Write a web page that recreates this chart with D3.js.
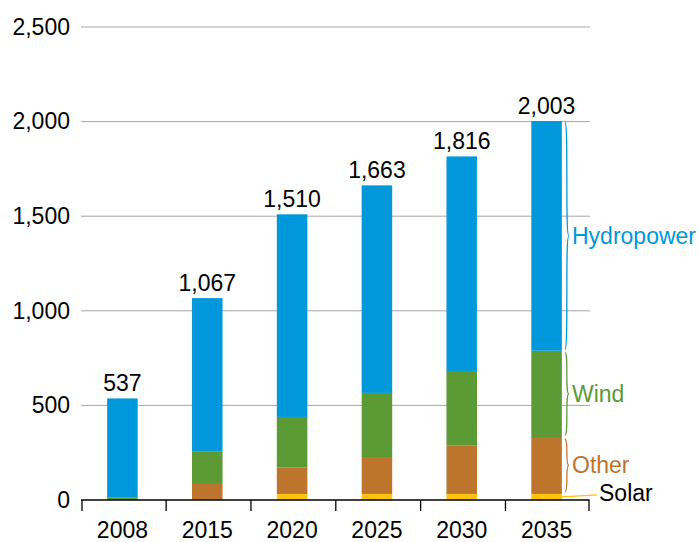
<!DOCTYPE html>
<html><head><meta charset="utf-8">
<script src="https://cdn.jsdelivr.net/npm/d3@7"></script>
<style>body{margin:0;background:#fff}svg{display:block;font-family:"Liberation Sans",Arial,sans-serif}</style>
</head><body><svg id="c" width="699" height="542"></svg>
<script>
const years = ["2008","2015","2020","2025","2030","2035"];
const solar = [0, 2, 32, 32, 32, 32];
const other = [2, 88, 139, 195, 255, 301];
const wind = [10, 165, 268, 339, 395, 456];
const hydro = [525, 812, 1071, 1097, 1134, 1214];
const totals = [537, 1067, 1510, 1663, 1816, 2003];
const yTicks = [0, 500, 1000, 1500, 2000, 2500];
const seriesNames = ["Solar", "Other", "Wind", "Hydropower"];
const seriesColors = ["#FFC20E", "#BD742C", "#5B9A35", "#0098DA"];
const FS = 23;

const svg = d3.select("#c");
const x = d3.scaleBand().domain(years).range([80, 589]).paddingInner(0.64).paddingOuter(0.32);
const y = d3.scaleLinear().domain([0, 2500]).range([500, 27]);

// gridlines
svg.append("g").selectAll("line").data(yTicks.filter(d => d > 0)).join("line")
  .attr("x1", 81).attr("x2", 590).attr("y1", d => y(d)).attr("y2", d => y(d))
  .attr("stroke", "#A6A6A6").attr("stroke-width", 1);

// y labels
const yAxis = d3.axisLeft(y).tickValues(yTicks).tickFormat(d3.format(",")).tickSize(0).tickPadding(11);
const ya = svg.append("g").attr("transform", "translate(81,0)").call(yAxis);
ya.select(".domain").remove();
ya.selectAll("text").attr("font-size", FS).attr("fill", "#000").attr("font-family", "Liberation Sans, Arial, sans-serif");

// stacks
const rows = years.map((yr, i) => ({year: yr, Solar: solar[i], Other: other[i], Wind: wind[i], Hydropower: hydro[i]}));
const stack = d3.stack().keys(seriesNames)(rows);
svg.append("g").selectAll("g").data(stack).join("g")
  .attr("fill", (d, i) => seriesColors[i])
  .selectAll("rect").data(d => d).join("rect")
  .attr("x", d => x(d.data.year)).attr("width", x.bandwidth())
  .attr("y", d => y(d[1])).attr("height", d => y(d[0]) - y(d[1]));

// totals
svg.append("g").selectAll("text").data(years).join("text")
  .attr("x", d => x(d) + x.bandwidth() / 2)
  .attr("y", (d, i) => y(totals[i]) - 7)
  .attr("text-anchor", "middle").attr("font-size", FS).attr("fill", "#000")
  .text((d, i) => d3.format(",")(totals[i]));

// x axis
const xAxis = d3.axisBottom(x).tickSize(0).tickPadding(22);
const xa = svg.append("g").attr("transform", "translate(0,500)").call(xAxis);
xa.select(".domain").remove();
xa.selectAll("text").attr("font-size", FS).attr("fill", "#000").attr("font-family", "Liberation Sans, Arial, sans-serif");
svg.append("line").attr("x1", 81).attr("x2", 589.5).attr("y1", 500).attr("y2", 500).attr("stroke", "#000").attr("stroke-width", 1.3);
const bounds = years.map(d => x(d) - x.step() * x.paddingInner() / 2 + 1.3);
bounds.push(589);
bounds[0] = 82;
svg.append("g").selectAll("line").data(bounds).join("line")
  .attr("x1", d => d).attr("x2", d => d).attr("y1", 500).attr("y2", 511)
  .attr("stroke", "#000").attr("stroke-width", 1.3);

// braces for last bar
const last = years.length - 1;
const bx = x(years[last]) + x.bandwidth() + 3;
function brace(y0, y1, w) {
  const m = (y0 + y1) / 2;
  return `M${bx},${y0} C${bx + w},${y0} ${bx},${m} ${bx + w},${m} C${bx},${m} ${bx + w},${y1} ${bx},${y1}`;
}
const lastStack = stack.map(s => s[last]);
const labelInfo = [
  {i: 3, y0: y(lastStack[3][1]) + 1, y1: y(lastStack[3][0]) - 1},
  {i: 2, y0: y(lastStack[2][1]) + 2, y1: y(lastStack[2][0]) - 2},
  {i: 1, y0: y(lastStack[1][1]) + 2, y1: y(lastStack[1][0]) - 2}
];
labelInfo.forEach(l => {
  svg.append("path").attr("d", brace(l.y0, l.y1, 4)).attr("fill", "none")
    .attr("stroke", seriesColors[l.i]).attr("stroke-width", 1.3);
  svg.append("text").attr("x", 572).attr("y", (l.y0 + l.y1) / 2 + 8)
    .attr("font-size", FS).attr("fill", seriesColors[l.i]).text(seriesNames[l.i]);
});
// solar leader
const sy = y(lastStack[0][1] / 2);
svg.append("line").attr("x1", x(years[last]) + x.bandwidth()).attr("y1", sy)
  .attr("x2", 597).attr("y2", sy - 2).attr("stroke", seriesColors[0]).attr("stroke-width", 1.3);
svg.append("text").attr("x", 599).attr("y", 501).attr("font-size", FS).attr("fill", "#000").text("Solar");
</script></body></html>
